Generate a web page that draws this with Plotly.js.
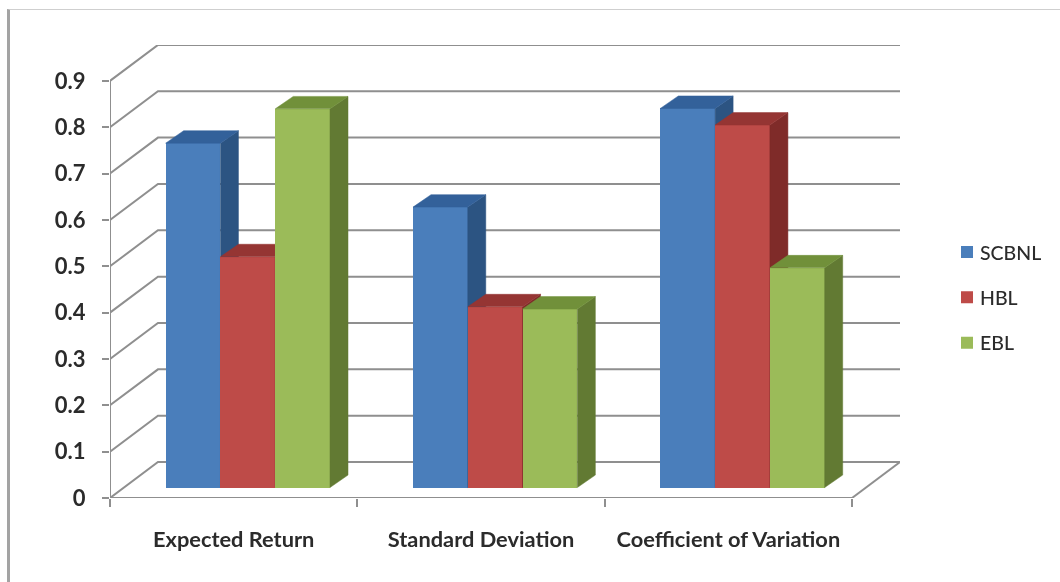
<!DOCTYPE html>
<html>
<head>
<meta charset="utf-8">
<script src="https://cdn.plot.ly/plotly-3.0.1.min.js"></script>
<style>
  html, body { margin: 0; padding: 0; background: #fff; width: 1060px; height: 582px; overflow: hidden; }
  #frame { position: absolute; left: 7px; top: 9px; width: 1053px; height: 573px;
           border-left: 3px solid #a3a3a3; border-top: 1px solid #cfcfcf; box-sizing: border-box; filter: blur(0.4px); }
  #chart { position: absolute; left: 0; top: 0; width: 1060px; height: 582px; filter: blur(0.55px); }
</style>
</head>
<body>
<div id="frame"></div>
<div id="chart"></div>
<script>
// ---- data ----
const categories = ['Expected Return', 'Standard Deviation', 'Coefficient of Variation'];
const SCBNL = [0.743, 0.605, 0.818];
const HBL   = [0.498, 0.390, 0.782];
const EBL   = [0.817, 0.385, 0.474];
const yTicks = [0, 0.1, 0.2, 0.3, 0.4, 0.5, 0.6, 0.7, 0.8, 0.9];
const yTickLabels = ['0', '0.1', '0.2', '0.3', '0.4', '0.5', '0.6', '0.7', '0.8', '0.9'];

// ---- colours ----
const series = [
  {name: 'SCBNL', values: SCBNL, front: '#4a7ebb', side: '#2c5482', top: '#33619a'},
  {name: 'HBL',   values: HBL,   front: '#be4b48', side: '#7f2b29', top: '#953533'},
  {name: 'EBL',   values: EBL,   front: '#9bbb59', side: '#627a33', top: '#71903a'}
];
const gridColor = '#8f8f8f', textColor = '#2b2b2b', fontFamily = 'Lato, sans-serif';

// ---- projection of the fake 3D box, in axis units ----
const xMax = 3.194, yMax = 0.9774;       // axis ranges
const wallDx = 0.194, wallDy = 0.0776;   // depth of the floor and walls
const barInset = 0.225, barW = 0.2215;   // gap from category start, bar width
const barBase = 0.0226;                  // bars stand part way back on the floor
const barDx = 0.0728, barDy = 0.0269;    // depth of each bar

const traces = [];

// layer 1: walls, floor, axis lines (under everything)
const gx = [], gy = [];
yTicks.forEach(t => {
  gx.push(0, wallDx, categories.length + wallDx, null);
  gy.push(t, t + wallDy, t + wallDy, null);
});
gx.push(categories.length, categories.length + wallDx, null, 0, categories.length, null, 0, 0);
gy.push(0, wallDy, null, 0, 0, null, 0, yTicks[yTicks.length - 1]);
traces.push({type: 'scatter', mode: 'lines', x: gx, y: gy, xaxis: 'x', yaxis: 'y',
  line: {color: gridColor, width: 2}, cliponaxis: false, showlegend: false, hoverinfo: 'skip'});

// layers 2-4: one overlaid subplot per series, so later series hide earlier side faces
series.forEach((s, i) => {
  const ax = 'x' + (i + 2), ay = 'y' + (i + 2);
  const xs = categories.map((c, k) => k + barInset + barW * i);
  traces.push({type: 'bar', name: s.name, legendgroup: s.name, x: xs.map(v => v + barW / 2), y: s.values, base: barBase,
    width: barW, xaxis: ax, yaxis: ay, marker: {color: s.front, line: {width: 0}}, hoverinfo: 'y'});
  const sx = [], sy = [], tx = [], ty = [];
  xs.forEach((x0, k) => {
    const x1 = x0 + barW, yT = barBase + s.values[k];
    sx.push(x1, x1 + barDx, x1 + barDx, x1, x1, null);
    sy.push(barBase, barBase + barDy, yT + barDy, yT, barBase, null);
    tx.push(x0, x0 + barDx, x1 + barDx, x1, x0, null);
    ty.push(yT, yT + barDy, yT + barDy, yT, yT, null);
  });
  [[sx, sy, s.side], [tx, ty, s.top]].forEach(([px, py, col]) => {
    traces.push({type: 'scatter', mode: 'lines', x: px, y: py, xaxis: ax, yaxis: ay, fill: 'toself',
      fillcolor: col, line: {color: col, width: 0.5}, showlegend: false, hoverinfo: 'skip'});
  });
});

const layout = {
  width: 1060, height: 582,
  margin: {l: 110, r: 160, t: 45, b: 83.5, pad: 0, autoexpand: false},
  paper_bgcolor: 'rgba(0,0,0,0)', plot_bgcolor: 'rgba(0,0,0,0)',
  font: {family: fontFamily, size: 20, color: textColor},
  showlegend: true,
  legend: {x: 1.0595, xanchor: 'left', y: 0.442, yanchor: 'middle', tracegroupgap: 17,
           font: {family: fontFamily, size: 19.5, color: textColor, weight: 500}, bgcolor: 'rgba(0,0,0,0)',
           itemclick: false, itemdoubleclick: false},
  bargap: 0,
  xaxis: {range: [0, xMax], showgrid: false, zeroline: false, showline: false,
          tickmode: 'array', tickvals: categories.map((c, k) => k + 0.5), ticktext: categories,
          ticks: 'outside', ticklen: 22, tickcolor: 'rgba(0,0,0,0)',
          minor: {tickmode: 'array', tickvals: [0, 1, 2, 3], ticks: 'outside', ticklen: 8, tickwidth: 2, tickcolor: gridColor, showgrid: false},
          tickfont: {family: fontFamily, size: 21.8, color: textColor, weight: 'bold'}},
  yaxis: {range: [0, yMax], showgrid: false, zeroline: false, showline: false,
          tickmode: 'array', tickvals: yTicks, ticktext: yTickLabels,
          ticks: 'outside', ticklen: 7, tickwidth: 2, tickcolor: gridColor, ticklabelstandoff: 12,
          tickfont: {family: fontFamily, size: 22, color: textColor, weight: 'bold'}}
};
[2, 3, 4].forEach(n => {
  layout['xaxis' + n] = {range: [0, xMax], overlaying: 'x', visible: false, fixedrange: true};
  layout['yaxis' + n] = {range: [0, yMax], overlaying: 'y', visible: false, fixedrange: true};
});

Plotly.newPlot('chart', traces, layout, {displayModeBar: false, staticPlot: true}).then(() => {
  // legend labels sit closer to their swatches in the reference
  document.querySelectorAll('#chart .legendtext').forEach(t => {
    t.setAttribute('x', parseFloat(t.getAttribute('x')) - 7);
  });
});
</script>
</body>
</html>
